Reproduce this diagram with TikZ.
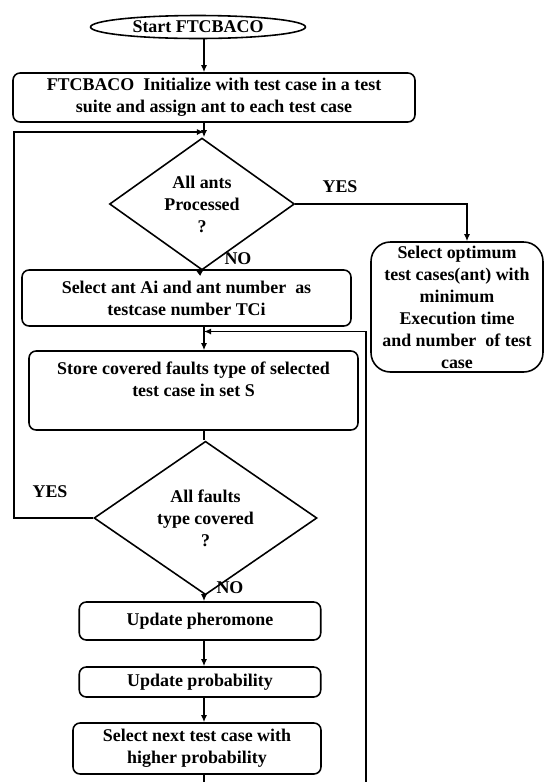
\documentclass[tikz,border=0pt]{standalone}
\usepackage{fontspec}
\setmainfont{Liberation Serif}
\usetikzlibrary{arrows.meta,positioning,calc,shapes.geometric}

\begin{document}
\begin{tikzpicture}[x=0.02cm,y=-0.02cm,>={Latex[length=4pt,width=3.5pt]},
 line width=0.9pt,font=\fontsize{10.2}{12.5}\selectfont\bfseries,
 term/.style={draw,ellipse,minimum width=4.3cm,minimum height=0.46cm,inner sep=0pt},
 box/.style={draw,rounded corners=4pt,align=center,inner sep=0pt},
 dec/.style={draw,diamond,align=center,inner sep=0pt},
 lbl/.style={inner sep=1pt}]
\useasboundingbox (0,0) rectangle (547,782);
\coordinate (col) at (204,0);
\node[term] (start) at (198,27) {Start FTCBACO};
\node[box,minimum width=8.04cm,minimum height=0.98cm] (init) at (214,97.5) {FTCBACO\ \ Initialize with test case in a test\\suite and assign ant to each test case};
\node[dec,minimum width=3.7cm,minimum height=2.32cm] (d1) at (202,204) {All ants\\Processed\\?};
\node[box,minimum width=6.58cm,minimum height=1.12cm] (sel) at (186.5,298) {Select ant Ai and ant number\ \ as\\testcase number TCi};
\node[box,rounded corners=11pt,minimum width=3.44cm,minimum height=2.6cm] (opt) at (457,307) {Select optimum\\test cases(ant) with\\minimum\\Execution time\\and number\ \ of test\\case};
\node[box,minimum width=6.58cm,minimum height=1.58cm] (store) at (193.5,390.5) {Store covered faults type of selected\\test case in set S\\\mbox{}};
\node[dec,minimum width=4.46cm,minimum height=2.3cm] (d2) at (205.5,518) {All faults\\type covered\\?};
\node[box,minimum width=4.83cm,minimum height=0.76cm] (pher) at (200,621) {Update pheromone};
\node[box,minimum width=4.83cm,minimum height=0.6cm] (prob) at (200,682) {Update probability};
\node[box,minimum width=4.96cm,minimum height=1.02cm] (next) at (197,748.5) {Select next test case with\\higher probability};
\coordinate (lx) at (14,0); \coordinate (rx) at (366,0);
\coordinate (top) at (0,132); \coordinate (mid) at (0,331.5);
\coordinate (bot) at (0,782); \coordinate (ox) at (467,0);
\draw[->] (col |- start.south) -- (col |- init.north);
\draw[->] (col |- init.south) -- (col |- d1.north);
\draw[->] (d1.east) -| (ox |- opt.north);
\node[lbl] (yes1) at (340,187) {YES};
\draw[->] (d1.south) -- (col |- sel.north);
\node[lbl] (no1) at (238,259) {NO};
\draw[->] (col |- sel.south) -- (col |- store.north);
\draw (col |- store.south) -- (col |- d2.north);
\draw[->] (d2.west) -| (lx |- top) -- (col |- top);
\node[lbl] (yes2) at (50,492) {YES};
\draw[->] (col |- d2.south) -- (col |- pher.north);
\node[lbl] (no2) at (230,588) {NO};
\draw[->] (col |- pher.south) -- (col |- prob.north);
\draw[->] (col |- prob.south) -- (col |- next.north);
\draw (col |- next.south) -- (col |- bot);
\draw[->] (rx |- bot) -- (rx |- mid) -- (col |- mid);
\end{tikzpicture}
\end{document}
